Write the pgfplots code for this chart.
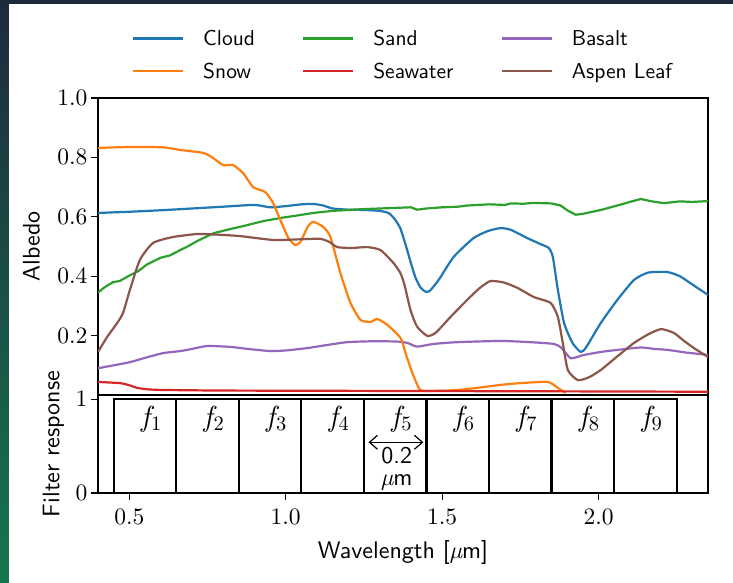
\documentclass[border=0pt]{standalone}
\usepackage{fontspec}
\setsansfont{lmsans10-regular.otf}
\newfontfamily\cmrm{lmroman10-regular.otf}
\newfontfamily\cmit{lmroman10-italic.otf}
\usepackage{pgfplots}
\pgfplotsset{compat=1.18}
\usetikzlibrary{arrows.meta}
\definecolor{cC0}{HTML}{1F77B4}
\definecolor{cC1}{HTML}{FF7F0E}
\definecolor{cC2}{HTML}{2CA02C}
\definecolor{cC3}{HTML}{D62728}
\definecolor{cC4}{HTML}{9467BD}
\definecolor{cC5}{HTML}{8C564B}
\definecolor{bgtop}{HTML}{1E2A3C}
\definecolor{bgmid}{HTML}{1B4747}
\definecolor{bgbot}{HTML}{16764F}
\newcommand{\lab}{\fontsize{24}{28}\selectfont}
\newcommand{\tck}{\fontsize{23.5}{27}\selectfont}
\newcommand{\leg}{\fontsize{21.5}{25}\selectfont}
\newcommand{\fl}[1]{{\fontsize{29}{33}\selectfont\cmit f}\kern1pt\raisebox{-4.5pt}{\fontsize{20.5}{24}\selectfont\cmrm #1}}
\newcommand{\mum}{{\cmit µ}m}
\begin{document}
\begin{tikzpicture}
\useasboundingbox (0pt,0pt) rectangle (733pt,-582pt);
\shade[top color=bgtop, middle color=bgmid, bottom color=bgbot] (0pt,0pt) rectangle (733pt,-582pt);
\fill[white] (9pt,-4pt) rectangle (740pt,-590pt);
\pgfplotsset{
  every axis/.append style={
    scale only axis, width=610pt, xmin=0.4, xmax=2.35,
    tick align=outside, major tick length=7pt,
    tick style={line width=1.1pt, black},
    axis line style={line width=1.1pt, black},
    ticklabel style={font=\cmrm\tck, /pgf/number format/assume math mode=true},
    label style={font=\sffamily\lab},
    xtick pos=bottom, ytick pos=left,
  },
}
\begin{axis}[
  at={(98pt,-98pt)}, anchor=north west, height=297pt,
  ymin=0, ymax=1,
  xtick=\empty,
  ytick={0.2,0.4,0.6,0.8,1.0},
  yticklabel style={/pgf/number format/.cd, fixed, fixed zerofill, precision=1},
  ylabel={Albedo},
  ylabel style={at={(axis description cs:-0.109,0.5)}, anchor=center},
  legend columns=3,
  legend style={draw=none, fill=none, font=\sffamily\leg,
    at={(0.5,1.0)}, anchor=south, yshift=14pt,
    /tikz/every odd column/.append style={column sep=17pt},
    /tikz/every even column/.append style={column sep=45pt},
    /tikz/row sep=12pt},
  legend cell align=left,
  legend image code/.code={\draw[#1, line width=2.2pt] (0pt,0pt) -- (50pt,0pt);},
  every axis plot/.append style={line width=2.2pt, smooth, tension=0.35},
]
\addplot[cC0] coordinates {(0.40,0.613)(0.50,0.617)(0.60,0.622)(0.70,0.628)(0.80,0.634)(0.90,0.640)(0.95,0.632)(1.00,0.636)(1.05,0.642)(1.09,0.643)(1.12,0.638)(1.15,0.628)(1.20,0.624)(1.25,0.623)(1.30,0.620)(1.33,0.612)(1.35,0.590)(1.367,0.560)(1.385,0.500)(1.40,0.445)(1.415,0.395)(1.431,0.362)(1.447,0.348)(1.46,0.350)(1.48,0.375)(1.495,0.397)(1.537,0.465)(1.60,0.528)(1.646,0.552)(1.687,0.562)(1.72,0.556)(1.773,0.528)(1.815,0.508)(1.841,0.495)(1.854,0.465)(1.87,0.354)(1.89,0.242)(1.917,0.175)(1.943,0.145)(1.96,0.160)(2.007,0.242)(2.06,0.320)(2.113,0.387)(2.158,0.412)(2.22,0.414)(2.26,0.400)(2.30,0.372)(2.35,0.337)};
\addlegendentry{Cloud}
\addplot[cC2, sharp plot] coordinates {(0.40,0.345)(0.42,0.362)(0.448,0.380)(0.47,0.384)(0.50,0.402)(0.53,0.418)(0.557,0.440)(0.60,0.462)(0.63,0.470)(0.663,0.488)(0.69,0.502)(0.72,0.520)(0.77,0.545)(0.82,0.558)(0.877,0.572)(0.93,0.586)(0.983,0.596)(1.04,0.605)(1.088,0.613)(1.15,0.620)(1.20,0.623)(1.249,0.626)(1.30,0.628)(1.35,0.630)(1.40,0.632)(1.42,0.624)(1.45,0.628)(1.50,0.632)(1.55,0.634)(1.58,0.638)(1.65,0.642)(1.70,0.640)(1.72,0.645)(1.76,0.644)(1.793,0.647)(1.85,0.645)(1.879,0.638)(1.90,0.622)(1.927,0.607)(1.95,0.610)(2.007,0.623)(2.06,0.638)(2.10,0.650)(2.135,0.660)(2.17,0.652)(2.209,0.646)(2.26,0.652)(2.30,0.650)(2.35,0.653)};
\addlegendentry{Sand}
\addplot[cC4] coordinates {(0.40,0.090)(0.45,0.100)(0.50,0.110)(0.55,0.125)(0.608,0.141)(0.663,0.148)(0.70,0.155)(0.749,0.165)(0.823,0.162)(0.88,0.155)(0.95,0.148)(1.00,0.150)(1.069,0.158)(1.13,0.168)(1.197,0.178)(1.28,0.181)(1.357,0.180)(1.39,0.175)(1.42,0.163)(1.473,0.172)(1.55,0.178)(1.687,0.182)(1.78,0.178)(1.857,0.172)(1.88,0.160)(1.911,0.124)(1.95,0.134)(2.007,0.145)(2.07,0.153)(2.135,0.160)(2.18,0.155)(2.22,0.152)(2.28,0.143)(2.35,0.135)};
\addlegendentry{Basalt}
\addplot[cC1] coordinates {(0.40,0.832)(0.50,0.835)(0.608,0.834)(0.663,0.825)(0.737,0.815)(0.768,0.798)(0.80,0.774)(0.832,0.774)(0.864,0.747)(0.896,0.700)(0.935,0.683)(0.96,0.646)(0.983,0.589)(1.008,0.530)(1.03,0.505)(1.047,0.515)(1.07,0.566)(1.088,0.583)(1.12,0.566)(1.143,0.532)(1.175,0.410)(1.207,0.310)(1.239,0.253)(1.271,0.246)(1.293,0.256)(1.325,0.236)(1.367,0.192)(1.385,0.135)(1.405,0.074)(1.43,0.017)(1.47,0.014)(1.52,0.015)(1.58,0.020)(1.687,0.034)(1.75,0.040)(1.838,0.044)(1.87,0.024)(1.895,0.007)};
\addlegendentry{Snow}
\addplot[cC3] coordinates {(0.40,0.044)(0.47,0.040)(0.50,0.033)(0.525,0.024)(0.56,0.019)(0.608,0.017)(0.8,0.015)(1.2,0.014)(1.6,0.013)(2.0,0.012)(2.35,0.011)};
\addlegendentry{Seawater}
\addplot[cC5] coordinates {(0.40,0.145)(0.429,0.195)(0.461,0.242)(0.48,0.276)(0.502,0.354)(0.534,0.455)(0.576,0.512)(0.64,0.532)(0.717,0.542)(0.78,0.540)(0.855,0.535)(0.96,0.522)(1.04,0.524)(1.11,0.526)(1.14,0.515)(1.165,0.498)(1.21,0.495)(1.261,0.498)(1.303,0.488)(1.345,0.444)(1.367,0.410)(1.38,0.370)(1.399,0.286)(1.42,0.230)(1.453,0.199)(1.48,0.210)(1.527,0.263)(1.58,0.320)(1.62,0.360)(1.655,0.384)(1.70,0.378)(1.742,0.360)(1.793,0.330)(1.847,0.310)(1.87,0.263)(1.885,0.180)(1.902,0.084)(1.934,0.050)(1.97,0.060)(2.007,0.084)(2.06,0.130)(2.113,0.175)(2.16,0.205)(2.20,0.222)(2.241,0.209)(2.27,0.185)(2.305,0.158)(2.35,0.128)};
\addlegendentry{Aspen Leaf}
\end{axis}
\begin{axis}[
  at={(98pt,-395pt)}, anchor=north west, height=98pt,
  ymin=0, ymax=1.043, clip=false,
  xtick={0.5,1.0,1.5,2.0},
  xticklabel style={/pgf/number format/.cd, fixed, fixed zerofill, precision=1, /tikz/yshift=-5pt},
  ytick={0,1},
  ylabel={Filter response},
  ylabel style={at={(axis description cs:-0.073,0.5)}, anchor=center},
  xlabel={Wavelength [\mum]},
  xlabel style={at={(axis description cs:0.5,-0.61)}, anchor=center},
]
\addplot[black, line width=2.2pt, sharp plot] coordinates {(0.45,0)(0.45,1)(0.65,1)(0.65,0)(0.65,1)(0.85,1)(0.85,0)(0.85,1)(1.05,1)(1.05,0)(1.05,1)(1.25,1)(1.25,0)(1.25,1)(1.45,1)(1.45,0)(1.45,1)(1.65,1)(1.65,0)(1.65,1)(1.85,1)(1.85,0)(1.85,1)(2.05,1)(2.05,0)(2.05,1)(2.25,1)(2.25,0)};
\node at (axis cs:0.57,0.79) {\fl{1}};
\node at (axis cs:0.77,0.79) {\fl{2}};
\node at (axis cs:0.97,0.79) {\fl{3}};
\node at (axis cs:1.17,0.79) {\fl{4}};
\node at (axis cs:1.37,0.79) {\fl{5}};
\node at (axis cs:1.57,0.79) {\fl{6}};
\node at (axis cs:1.77,0.79) {\fl{7}};
\node at (axis cs:1.97,0.79) {\fl{8}};
\node at (axis cs:2.17,0.79) {\fl{9}};
\draw[{Straight Barb[length=8pt,width=14pt]}-{Straight Barb[length=8pt,width=14pt]}, line width=1.2pt] (axis cs:1.265,0.54) -- (axis cs:1.44,0.54);
\node[font=\sffamily\lab] at (axis cs:1.355,0.40) {0.2};
\node[font=\sffamily\lab] at (axis cs:1.355,0.11) {\mum};
\end{axis}
\end{tikzpicture}
\end{document}
